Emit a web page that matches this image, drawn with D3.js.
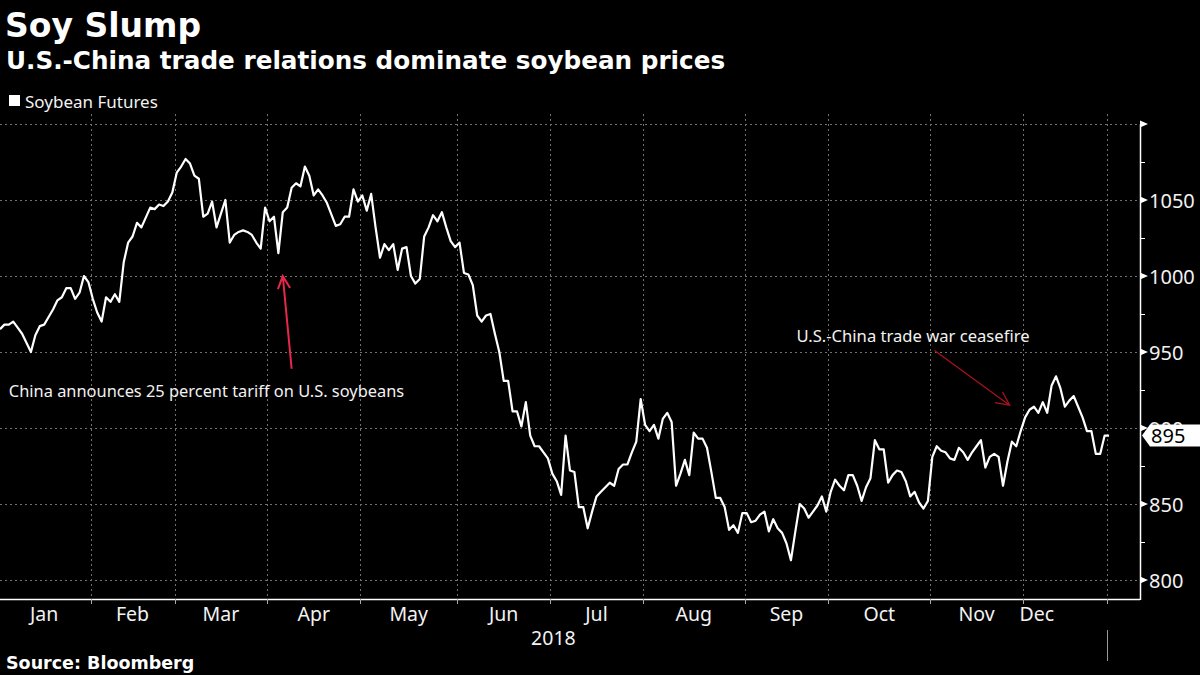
<!DOCTYPE html>
<html>
<head>
<meta charset="utf-8">
<script src="https://cdn.jsdelivr.net/npm/d3@7"></script>
<style>
  html, body { margin: 0; padding: 0; background: #000; }
  svg { display: block; }
  .lbl { font-family: "Noto Sans", sans-serif; fill: #f2f2f2; }
  .bold { font-family: "DejaVu Sans", sans-serif; font-weight: bold; fill: #fff; }
</style>
</head>
<body>
<svg id="chart" width="1200" height="675"></svg>
<script>
// trading session index (0 = first session of 2018) and front-month soybean price, cents/bu
const days = [
  0, 1, 2, 3, 4, 5, 7, 8, 9, 10, 11, 12, 13, 14, 15, 16, 17, 18, 19, 20,
  21, 22, 23, 24, 25, 26, 27, 28, 29, 30, 31, 32, 34, 35, 36, 37, 38, 39, 40, 41,
  42, 43, 44, 45, 46, 47, 48, 49, 50, 51, 52, 53, 54, 55, 56, 57, 58, 59, 60, 61,
  62, 63, 64, 65, 66, 67, 68, 69, 70, 71, 72, 73, 74, 76, 77, 78, 79, 80, 81, 82,
  83, 84, 85, 86, 87, 88, 89, 90, 91, 92, 93, 94, 95, 96, 97, 98, 99, 100, 101, 102,
  103, 104, 105, 106, 107, 108, 109, 110, 111, 112, 113, 114, 115, 116, 117, 118, 119, 120, 121, 122,
  123, 124, 125, 126, 127, 128, 129, 130, 131, 132, 133, 134, 135, 136, 137, 138, 139, 140, 141, 142,
  143, 144, 145, 146, 147, 148, 149, 150, 151, 152, 153, 154, 155, 156, 157, 158, 159, 160, 161, 162,
  163, 164, 165, 166, 167, 168, 169, 170, 171, 172, 173, 174, 175, 176, 177, 178, 179, 180, 181, 182,
  183, 184, 185, 186, 187, 188, 189, 190, 191, 192, 193, 194, 195, 196, 197, 198, 199, 200, 201, 202,
  203, 204, 205, 206, 207, 208, 209, 210, 211, 212, 213, 214, 215, 216, 217, 218, 219, 220, 221, 222,
  223, 224, 225, 226, 227, 228, 229, 230, 231, 232, 233, 234, 235, 236, 237, 238, 239, 240, 241, 242,
  243, 244, 245, 246, 247, 248, 249, 250, 251
];
const prices = [
  965, 968, 968, 970, 966, 962, 950, 961, 967, 968, 973, 978, 984, 986, 992, 992, 985, 989, 1000, 996,
  985, 976, 970, 986, 983, 988, 983, 1009, 1022, 1026, 1035, 1032, 1045, 1044, 1047, 1046, 1049, 1055, 1068, 1072,
  1077, 1074, 1066, 1064, 1039, 1041, 1049, 1032, 1041, 1050, 1022, 1027, 1029, 1030, 1029, 1027, 1022, 1018, 1045, 1036,
  1039, 1015, 1042, 1045, 1058, 1061, 1059, 1072, 1066, 1053, 1057, 1053, 1048, 1033, 1034, 1039, 1039, 1057, 1049, 1053,
  1043, 1054, 1032, 1012, 1021, 1017, 1021, 1004, 1018, 1019, 1000, 995, 998, 1026, 1032, 1040, 1036, 1042, 1032, 1023,
  1019, 1022, 1002, 1001, 994, 974, 970, 974, 975, 962, 950, 931, 931, 911, 911, 901, 917, 895, 888, 888,
  884, 880, 870, 865, 856, 895, 872, 871, 848, 848, 834, 845, 855, 858, 861, 864, 862, 873, 876, 876,
  884, 891, 919, 902, 898, 902, 893, 906, 910, 904, 862, 870, 879, 869, 897, 893, 893, 887, 871, 854,
  854, 848, 833, 836, 831, 844, 844, 838, 839, 843, 845, 832, 840, 834, 831, 824, 813, 832, 850, 847,
  841, 845, 849, 855, 845, 858, 866, 862, 859, 869, 869, 862, 852, 861, 867, 892, 886, 886, 864, 869,
  872, 871, 865, 855, 858, 851, 847, 852, 881, 888, 885, 884, 880, 879, 887, 884, 879, 884, 888, 892,
  874, 881, 883, 881, 862, 878, 891, 888, 898, 907, 912, 914, 910, 917, 910, 928, 934, 926, 914, 918,
  921, 914, 907, 898, 898, 883, 883, 895, 895
];

// first trading session of each month (last entry = first session of 2019)
const monthStarts = [0, 21, 40, 61, 82, 104, 125, 146, 169, 188, 211, 232, 251];
const monthNames = ['Jan', 'Feb', 'Mar', 'Apr', 'May', 'Jun', 'Jul', 'Aug', 'Sep', 'Oct', 'Nov', 'Dec'];
const yearLabel = '2018';

const yTicks = [800, 850, 900, 950, 1000, 1050, 1100];
const yLabels = [800, 850, 900, 950, 1000, 1050];
const yMinor = [825, 875, 925, 975, 1025, 1075];
const lastPrice = 895;

// annotations: [day, price] for text anchor, arrow tail, arrow tip
const tariffNote = { text: 'China announces 25 percent tariff on U.S. soybeans', at: [2, 925], from: [66, 939], to: [64, 1000] };
const ceasefireNote = { text: 'U.S.-China trade war ceasefire', at: [233, 961], from: [211.5, 951], to: [228.5, 915] };

const series = days.map((d, i) => ({ day: d, price: prices[i] }));

function drawChart(selector) {
  let plot = { left: 0, right: 1140, top: 124, bottom: 599 },
    x = d3.scaleLinear().domain([0, 258]).range([plot.left, plot.right]),
    y = d3.scaleLinear().domain([787.5, 1100]).range([plot.bottom, plot.top])

  let svg = d3.select(selector)

  svg.append('rect')
    .attr('width', 1200)
    .attr('height', 675)
    .attr('fill', '#000')

  // titles
  svg.append('text')
    .attr('class', 'bold')
    .attr('x', 5)
    .attr('y', 37)
    .style('font-size', '33px')
    .text('Soy Slump')

  svg.append('text')
    .attr('class', 'bold')
    .attr('x', 6)
    .attr('y', 69)
    .style('font-size', '24.7px')
    .text('U.S.-China trade relations dominate soybean prices')

  // legend
  svg.append('rect')
    .attr('x', 9)
    .attr('y', 95)
    .attr('width', 11)
    .attr('height', 11)
    .attr('fill', '#fff')

  svg.append('text')
    .attr('class', 'lbl')
    .attr('x', 25)
    .attr('y', 101)
    .attr('dominant-baseline', 'central')
    .style('font-size', '17px')
    .text('Soybean Futures')

  let boundary = d => x(d - 0.5)

  // grid
  let grid = svg.append('g')
    .attr('stroke', '#707070')
    .attr('stroke-width', 1)
    .attr('stroke-dasharray', '2,3')

  grid.selectAll('line.h')
    .data(yTicks)
    .enter().append('line')
    .attr('class', 'h')
    .attr('x1', plot.left)
    .attr('x2', plot.right)
    .attr('y1', d => Math.round(y(d)) + 0.5)
    .attr('y2', d => Math.round(y(d)) + 0.5)

  grid.selectAll('line.v')
    .data(monthStarts.slice(1))
    .enter().append('line')
    .attr('class', 'v')
    .attr('x1', d => Math.round(boundary(d)) + 0.5)
    .attr('x2', d => Math.round(boundary(d)) + 0.5)
    .attr('y1', 114)
    .attr('y2', plot.bottom)

  // price line
  svg.append('clipPath')
    .attr('id', 'clip')
    .append('rect')
    .attr('x', plot.left)
    .attr('y', 0)
    .attr('width', plot.right - plot.left)
    .attr('height', 675)

  let line = d3.line()
    .x(d => x(d.day))
    .y(d => y(d.price))

  svg.append('path')
    .datum(series)
    .attr('clip-path', 'url(#clip)')
    .attr('fill', 'none')
    .attr('stroke', '#fff')
    .attr('stroke-width', 2.2)
    .attr('stroke-linejoin', 'round')
    .attr('d', line)

  // x axis
  svg.append('line')
    .attr('x1', plot.left)
    .attr('x2', plot.right)
    .attr('y1', plot.bottom + 0.5)
    .attr('y2', plot.bottom + 0.5)
    .attr('stroke', '#fff')
    .attr('stroke-width', 1.5)

  svg.selectAll('line.xtick')
    .data(monthStarts.slice(1))
    .enter().append('line')
    .attr('class', 'xtick')
    .attr('x1', d => Math.round(boundary(d)) + 0.5)
    .attr('x2', d => Math.round(boundary(d)) + 0.5)
    .attr('y1', plot.bottom)
    .attr('y2', plot.bottom + 5)
    .attr('stroke', '#aaa')

  svg.selectAll('text.month')
    .data(monthNames)
    .enter().append('text')
    .attr('class', 'lbl month')
    .attr('x', (d, i) => {
      let a = boundary(monthStarts[i]), b = boundary(monthStarts[i + 1])
      return i === monthNames.length - 1 ? a + 14 : (a + b) / 2   // last month label sits just past its boundary
    })
    .attr('y', 613)
    .attr('text-anchor', 'middle')
    .attr('dominant-baseline', 'central')
    .style('font-size', '19.5px')
    .text(d => d)

  let yearEnd = boundary(monthStarts[monthStarts.length - 1])
  svg.append('text')
    .attr('class', 'lbl')
    .attr('x', (plot.left + yearEnd) / 2)
    .attr('y', 637)
    .attr('text-anchor', 'middle')
    .attr('dominant-baseline', 'central')
    .style('font-size', '19.5px')
    .text(yearLabel)

  svg.append('line')
    .attr('x1', Math.round(yearEnd) + 0.5)
    .attr('x2', Math.round(yearEnd) + 0.5)
    .attr('y1', 630)
    .attr('y2', 661)
    .attr('stroke', '#999')

  // y axis on the right
  let yAxis = svg.append('g')
    .attr('transform', 'translate(' + plot.right + ',0)')

  yAxis.append('line')
    .attr('x1', 0.5)
    .attr('x2', 0.5)
    .attr('y1', y(1100))
    .attr('y2', plot.bottom + 1)
    .attr('stroke', '#fff')
    .attr('stroke-width', 1.5)

  yAxis.selectAll('line.minor')
    .data(yMinor)
    .enter().append('line')
    .attr('class', 'minor')
    .attr('x1', 0)
    .attr('x2', 5)
    .attr('y1', d => Math.round(y(d)) + 0.5)
    .attr('y2', d => Math.round(y(d)) + 0.5)
    .attr('stroke', '#fff')

  yAxis.selectAll('path.major')
    .data(yTicks)
    .enter().append('path')
    .attr('class', 'major')
    .attr('transform', d => 'translate(0,' + y(d) + ')')
    .attr('d', 'M0,-3.5L8,0L0,3.5Z')
    .attr('fill', '#fff')

  yAxis.selectAll('text')
    .data(yLabels)
    .enter().append('text')
    .attr('class', 'lbl')
    .attr('x', 9)
    .attr('y', d => y(d))
    .attr('dominant-baseline', 'central')
    .style('font-size', '20px')
    .text(d => d)

  // last value tag, drawn over the 900 label like the original
  let ty = y(lastPrice)
  yAxis.append('path')
    .attr('d', 'M2,' + ty + 'L10,' + (ty - 11) + 'L62,' + (ty - 11) + 'L62,' + (ty + 11) + 'L10,' + (ty + 11) + 'Z')
    .attr('fill', '#fff')

  yAxis.append('text')
    .attr('x', 11)
    .attr('y', ty)
    .attr('dominant-baseline', 'central')
    .style('font-family', '"Noto Sans", sans-serif')
    .style('font-size', '20px')
    .attr('fill', '#000')
    .text(lastPrice)

  // annotations
  function arrow(note, color, width, head) {
    let x1 = x(note.from[0]), y1 = y(note.from[1]),
      x2 = x(note.to[0]), y2 = y(note.to[1]),
      ang = Math.atan2(y2 - y1, x2 - x1)
    let p = d3.path()
    p.moveTo(x1, y1)
    p.lineTo(x2, y2)
    p.moveTo(x2 - head * Math.cos(ang - 0.45), y2 - head * Math.sin(ang - 0.45))
    p.lineTo(x2, y2)
    p.lineTo(x2 - head * Math.cos(ang + 0.45), y2 - head * Math.sin(ang + 0.45))
    svg.append('path')
      .attr('d', p.toString())
      .attr('fill', 'none')
      .attr('stroke', color)
      .attr('stroke-width', width)
  }

  arrow(tariffNote, '#e8284a', 2, 14)
  svg.append('text')
    .attr('class', 'lbl')
    .attr('x', x(tariffNote.at[0]))
    .attr('y', y(tariffNote.at[1]))
    .attr('dominant-baseline', 'central')
    .style('font-size', '16.4px')
    .text(tariffNote.text)

  arrow(ceasefireNote, '#a8121c', 1.3, 15)
  svg.append('text')
    .attr('class', 'lbl')
    .attr('x', x(ceasefireNote.at[0]))
    .attr('y', y(ceasefireNote.at[1]))
    .attr('text-anchor', 'end')
    .attr('dominant-baseline', 'central')
    .style('font-size', '16.6px')
    .text(ceasefireNote.text)

  // source
  svg.append('text')
    .attr('class', 'bold')
    .attr('x', 6)
    .attr('y', 669)
    .style('font-size', '17.5px')
    .text('Source: Bloomberg')
}

drawChart('#chart')
</script>
</body>
</html>
